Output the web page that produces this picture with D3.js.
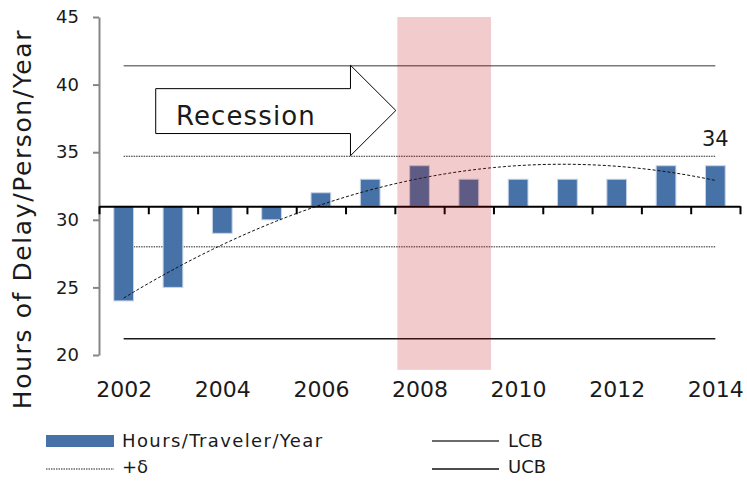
<!DOCTYPE html>
<html>
<head>
<meta charset="utf-8">
<script src="https://cdn.jsdelivr.net/npm/d3@7"></script>
<style>
  body { margin: 0; background: #fff; }
  svg { display: block; }
  text { font-family: "DejaVu Sans", sans-serif; fill: #1a1a1a; }
</style>
</head>
<body>
<svg id="chart" width="747" height="481"></svg>
<script>
// Annual delay per traveler
const years = [2002, 2003, 2004, 2005, 2006, 2007, 2008, 2009, 2010, 2011, 2012, 2013, 2014];
const hours = [24, 25, 29, 30, 32, 33, 34, 33, 33, 33, 33, 34, 34];

// Axis ticks
const yTicks = [20, 25, 30, 35, 40, 45];
const xTickLabels = [2002, 2004, 2006, 2008, 2010, 2012, 2014];
const yDomain = [20, 45];
const axisCross = 31;

// Control bands
const lcbLevel = [41.4];
const ucbLevel = [21.2];
const deltaLevels = [34.7, 28.0];

// Recession shading (years) and its vertical extent (hours)
const recessionYears = [2007.55, 2009.45];
const recessionHours = [45, 18.9];

// Block arrow, in years / hours: tail, head base, tip
const arrowYears = [2002.65, 2006.6, 2007.52];
// head top, body top, body bottom, head bottom
const arrowHours = [41.43, 39.7, 36.38, 34.74];

const labelledYear = 2014;

const svg = d3.select("#chart");
const plot = { left: 99, right: 740, top: 17, bottom: 355 };

const x = d3.scaleBand().domain(years).range([plot.left, plot.right])
  .paddingInner(0.6).paddingOuter(0.3);
const xc = d3.scaleLinear()
  .domain([years[0] - 0.5, years[years.length - 1] + 0.5])
  .range([plot.left, plot.right]);
const y = d3.scaleLinear().domain(yDomain).range([plot.bottom, plot.top]);

// Y axis
const yAxis = svg.append("g")
  .attr("transform", `translate(${plot.left},0)`)
  .call(d3.axisLeft(y).tickValues(yTicks).tickSize(6).tickSizeOuter(0).tickPadding(14));
yAxis.select(".domain").attr("stroke", "#868686").attr("stroke-width", 2);
yAxis.selectAll(".tick line").attr("stroke", "#868686").attr("stroke-width", 2);
yAxis.selectAll(".tick text").attr("font-size", 18).attr("fill", "#1a1a1a")
  .attr("font-family", "DejaVu Sans, sans-serif");

// Y title
svg.append("text")
  .attr("transform", `translate(31,219) rotate(-90)`)
  .attr("text-anchor", "middle")
  .attr("font-size", 25)
  .attr("letter-spacing", 1.6)
  .text("Hours of Delay/Person/Year");

// Horizontal control lines
const lineSpan = [xc(years[0]), xc(years[years.length - 1])];
svg.selectAll(".lcb").data(lcbLevel).join("line")
  .attr("x1", lineSpan[0]).attr("x2", lineSpan[1])
  .attr("y1", d => y(d)).attr("y2", d => y(d))
  .attr("stroke", "#7a7a7a").attr("stroke-width", 1.5);
svg.selectAll(".ucb").data(ucbLevel).join("line")
  .attr("x1", lineSpan[0]).attr("x2", lineSpan[1])
  .attr("y1", d => y(d)).attr("y2", d => y(d))
  .attr("stroke", "#1a1a1a").attr("stroke-width", 1.5);
svg.selectAll(".delta").data(deltaLevels).join("line")
  .attr("x1", lineSpan[0]).attr("x2", lineSpan[1])
  .attr("y1", d => y(d)).attr("y2", d => y(d))
  .attr("stroke", "#222").attr("stroke-width", 1).attr("stroke-dasharray", "1.5,1");

// Bars from the crossing level
svg.selectAll(".bar").data(years).join("rect")
  .attr("x", d => x(d))
  .attr("width", x.bandwidth())
  .attr("y", (d, i) => y(Math.max(hours[i], axisCross)))
  .attr("height", (d, i) => Math.abs(y(hours[i]) - y(axisCross)))
  .attr("fill", "#4672a7")
  .attr("stroke", "#c6d4e8").attr("stroke-width", 1);

// X axis through the crossing level
const xAxis = svg.append("g")
  .attr("transform", `translate(0,${y(axisCross)})`)
  .call(d3.axisBottom(xc).tickValues(d3.range(years[0] - 0.5, years[years.length - 1] + 1, 1))
    .tickSize(8).tickSizeOuter(0).tickFormat(""));
xAxis.select(".domain").attr("stroke", "#000").attr("stroke-width", 2);
xAxis.selectAll(".tick line").attr("stroke", "#000").attr("stroke-width", 2);

// X labels along the bottom
const xLab = svg.append("g")
  .attr("transform", `translate(0,${plot.bottom})`)
  .call(d3.axisBottom(xc).tickValues(xTickLabels).tickSize(0).tickPadding(26.5)
    .tickFormat(d3.format("d")));
xLab.select(".domain").remove();
xLab.selectAll(".tick text").attr("font-size", 22).attr("fill", "#1a1a1a")
  .attr("font-family", "DejaVu Sans, sans-serif");

// Quadratic least-squares trend of the yearly values
function quadFit(xs, ys) {
  const n = xs.length, m = d3.mean(xs);
  const t = xs.map(v => v - m);
  const s1 = d3.sum(t), s2 = d3.sum(t, v => v * v), s3 = d3.sum(t, v => v ** 3), s4 = d3.sum(t, v => v ** 4);
  const sy = d3.sum(ys), sty = d3.sum(t, (v, i) => v * ys[i]), st2y = d3.sum(t, (v, i) => v * v * ys[i]);
  // Solve the 3x3 normal equations
  const A = [[n, s1, s2], [s1, s2, s3], [s2, s3, s4]], B = [sy, sty, st2y];
  for (let i = 0; i < 3; i++) {
    for (let k = i + 1; k < 3; k++) {
      const f = A[k][i] / A[i][i];
      for (let j = i; j < 3; j++) A[k][j] -= f * A[i][j];
      B[k] -= f * B[i];
    }
  }
  const c = [0, 0, 0];
  for (let i = 2; i >= 0; i--) {
    let s = B[i];
    for (let j = i + 1; j < 3; j++) s -= A[i][j] * c[j];
    c[i] = s / A[i][i];
  }
  return v => c[0] + c[1] * (v - m) + c[2] * (v - m) ** 2;
}
const trend = quadFit(years, hours);
const trendYears = d3.range(years[0], years[years.length - 1] + 0.001, 0.1);
svg.append("path")
  .attr("d", d3.line().x(d => xc(d)).y(d => y(trend(d)))(trendYears))
  .attr("fill", "none").attr("stroke", "#111").attr("stroke-width", 1)
  .attr("stroke-dasharray", "3,2");

// Block arrow labelled Recession
const [ax0, ax1, ax2] = arrowYears.map(xc);
const [hTop, bTop, bBot, hBot] = arrowHours.map(y);
const arrowPts = [[ax0, bTop], [ax1, bTop], [ax1, hTop], [ax2, (hTop + hBot) / 2],
  [ax1, hBot], [ax1, bBot], [ax0, bBot]];
svg.append("path")
  .attr("d", d3.line()(arrowPts) + "Z")
  .attr("fill", "#fff").attr("stroke", "#000").attr("stroke-width", 1);
svg.append("text")
  .attr("x", 176).attr("y", (bTop + bBot) / 2 + 5)
  .attr("dy", "0.36em")
  .attr("font-size", 26)
  .attr("letter-spacing", 1.1)
  .text("Recession");

// Recession shading
svg.append("rect")
  .attr("x", xc(recessionYears[0]))
  .attr("width", xc(recessionYears[1]) - xc(recessionYears[0]))
  .attr("y", y(recessionHours[0]))
  .attr("height", y(recessionHours[1]) - y(recessionHours[0]))
  .attr("fill", "rgb(192,0,0)").attr("fill-opacity", 0.2);

// Value label on the last bar
const li = years.indexOf(labelledYear);
svg.append("text")
  .attr("x", xc(labelledYear)).attr("y", y(hours[li]) - 20)
  .attr("text-anchor", "middle")
  .attr("font-size", 21)
  .text(hours[li]);

// Legend
const lg = svg.append("g");
lg.append("rect").attr("x", 46).attr("y", 435).attr("width", 68).attr("height", 12)
  .attr("fill", "#4672a7");
lg.append("text").attr("x", 122).attr("y", 441).attr("dy", "0.36em")
  .attr("font-size", 18).attr("letter-spacing", 1.4).attr("fill", "#262626")
  .text("Hours/Traveler/Year");
lg.append("line").attr("x1", 46).attr("x2", 114).attr("y1", 469).attr("y2", 469)
  .attr("stroke", "#222").attr("stroke-width", 1).attr("stroke-dasharray", "1.5,1");
lg.append("text").attr("x", 122).attr("y", 467).attr("dy", "0.36em")
  .attr("font-size", 18).attr("fill", "#262626").text("+δ");
lg.append("line").attr("x1", 432).attr("x2", 499).attr("y1", 441).attr("y2", 441)
  .attr("stroke", "#3a3a3a").attr("stroke-width", 1.5);
lg.append("text").attr("x", 508).attr("y", 441).attr("dy", "0.36em")
  .attr("font-size", 18).attr("fill", "#262626").text("LCB");
lg.append("line").attr("x1", 432).attr("x2", 499).attr("y1", 469).attr("y2", 469)
  .attr("stroke", "#111").attr("stroke-width", 1.5);
lg.append("text").attr("x", 508).attr("y", 467).attr("dy", "0.36em")
  .attr("font-size", 18).attr("fill", "#262626").text("UCB");
</script>
</body>
</html>
